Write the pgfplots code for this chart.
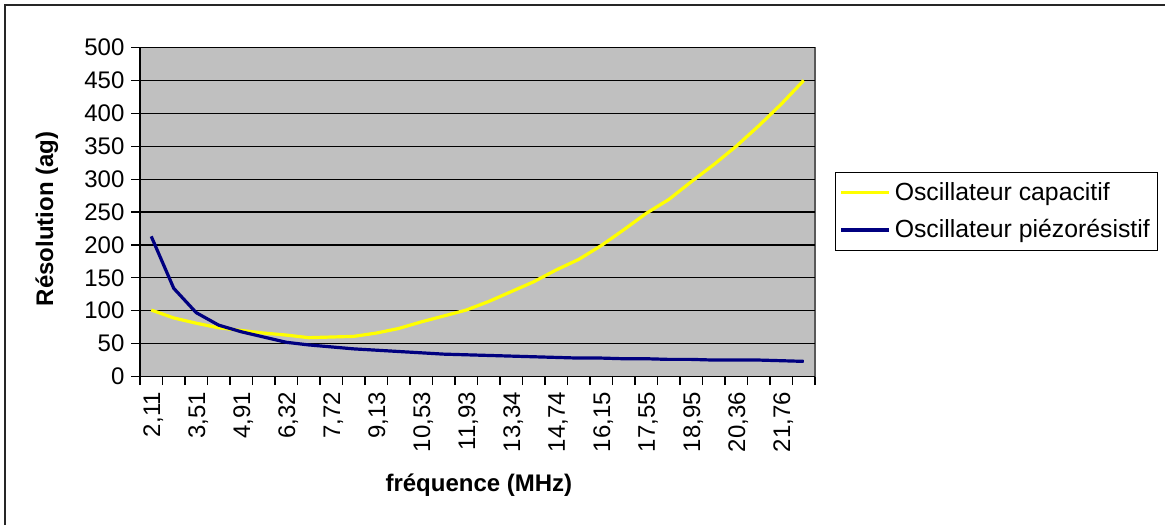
\documentclass[border=0pt]{standalone}
\usepackage{fontspec}
\setmainfont{Liberation Sans}
\usepackage{pgfplots}
\pgfplotsset{compat=1.18}
\definecolor{plotgray}{HTML}{C0C0C0}
\definecolor{capyellow}{HTML}{FFFF00}
\definecolor{piezoblue}{HTML}{000080}
\begin{document}
\begin{tikzpicture}[font=\fontsize{12pt}{14pt}\selectfont]
\useasboundingbox (-70pt,-74.25pt) rectangle (512.5pt,188.25pt);
\draw[line width=1pt, black!85] (-67.5pt,-74.25pt) -- (-67.5pt,185.75pt) -- (512.5pt,185.75pt);
\begin{axis}[
  at={(0pt,0pt)}, anchor=south west,
  scale only axis, width=337.5pt, height=164.5pt,
  xmin=-0.5, xmax=29.5, ymin=0, ymax=500,
  axis x line*=bottom, axis y line*=left,
  axis line style={-, black, line width=0.8pt},
  axis background/.style={fill=plotgray, draw=gray!70!black, line width=0.8pt},
  tick align=outside,
  major tick length=4.25pt,
  tick style={black, line width=0.6pt},
  ytick={0,50,...,500},
  ymajorgrids,
  major grid style={black, line width=0.6pt},
  /pgf/number format/assume math mode=true,
  xtick={-0.5,0.5,...,29.5},
  x tick label as interval,
  xticklabels={{2,11},{},{3,51},{},{4,91},{},{6,32},{},{7,72},{},{9,13},{},{10,53},{},{11,93},{},{13,34},{},{14,74},{},{16,15},{},{17,55},{},{18,95},{},{20,36},{},{21,76},{}},
  xticklabel style={rotate=90, anchor=east, yshift=-1pt},
  xlabel={\bfseries fréquence (MHz)},
  ylabel={\bfseries Résolution (ag)},
  xlabel style={at={(axis description cs:0.502,-0.3298)}, anchor=center},
  ylabel style={at={(axis description cs:-0.1378,0.479)}, anchor=center},
  legend style={at={(axis description cs:1.0296,0.6225)}, anchor=north west,
    draw=black, line width=0.6pt, fill=white, inner xsep=2pt, inner ysep=3pt,
    row sep=4pt, font=\fontsize{12.4pt}{14pt}\selectfont},
  legend cell align=left,
  legend image code/.code={\draw[#1] (0pt,0pt) -- (24pt,0pt);},
]
\addplot[capyellow, line width=1.6pt] coordinates {
(0,101) (1,89) (2,81) (3,74) (4,70) (5,66) (6,63) (7,59) (8,60) (9,61)
(10,66) (11,73) (12,83) (13,92) (14,101) (15,114) (16,129) (17,144) (18,162) (19,178)
(20,199) (21,223) (22,248) (23,269) (24,296) (25,322) (26,350) (27,381) (28,414) (29,450)};
\addlegendentry{Oscillateur capacitif}
\addplot[piezoblue, line width=1.6pt] coordinates {
(0,213) (1,134) (2,97) (3,78) (4,68) (5,60) (6,52) (7,48) (8,45) (9,42)
(10,40) (11,38) (12,36) (13,34) (14,33) (15,32) (16,31) (17,30) (18,29) (19,28)
(20,28) (21,27) (22,27) (23,26) (24,26) (25,25) (26,25) (27,25) (28,24) (29,23)};
\addlegendentry{Oscillateur piézorésistif}
\end{axis}
\end{tikzpicture}
\end{document}
